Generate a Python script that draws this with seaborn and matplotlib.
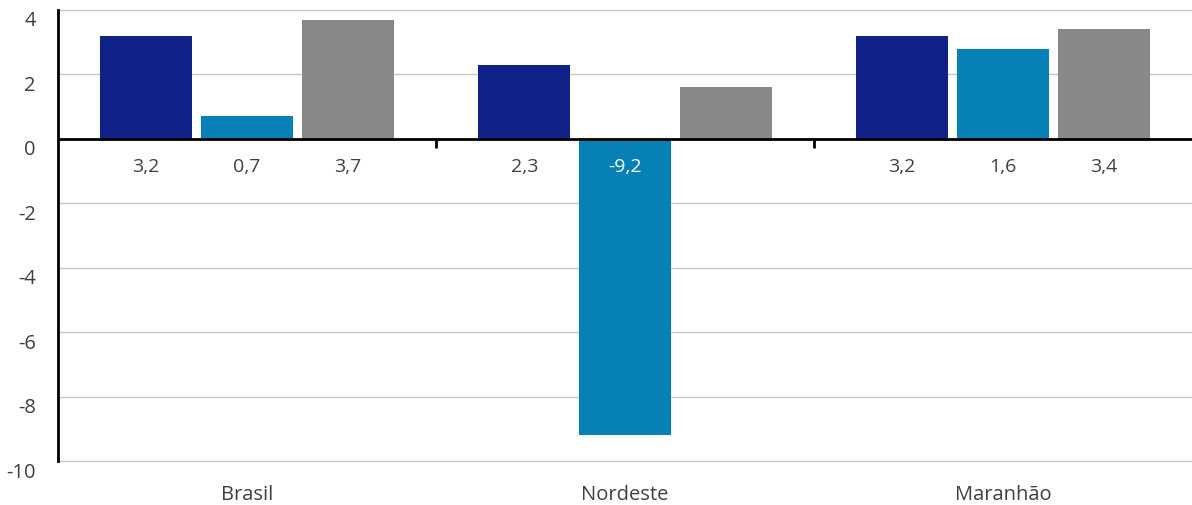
import numpy as np
import pandas as pd
import matplotlib
matplotlib.use("Agg")
import matplotlib.pyplot as plt
import matplotlib.transforms as mtransforms
import seaborn as sns

# data
regions = ["Brasil", "Nordeste", "Maranhão"]
series = ["Série 1", "Série 2", "Série 3"]
serie1 = [3.2, 2.3, 3.2]
serie2 = [0.7, -9.2, 2.8]
serie3 = [3.7, 1.6, 3.4]
# printed labels (as shown in the original, one per bar)
labels1 = ["3,2", "2,3", "3,2"]
labels2 = ["0,7", "-9,2", "1,6"]
labels3 = ["3,7", "", "3,4"]

colors = ["#10218A", "#0780B6", "#888888"]
text_color = "#404040"

df = pd.DataFrame({
    "regiao": regions * 3,
    "serie": [s for s in series for _ in regions],
    "valor": serie1 + serie2 + serie3,
})

sns.set_theme(style="white")
plt.rcParams["font.family"] = ["Open Sans", "DejaVu Sans"]

fig = plt.figure(figsize=(11.92, 5.05), dpi=100)
ax = fig.add_axes([58 / 1192, 44 / 505, 1134 / 1192, 451 / 505])

sns.barplot(data=df, x="regiao", y="valor", hue="serie", palette=colors,
            width=0.8, gap=0.085, saturation=1, linewidth=0, legend=False, ax=ax)

ax.set_ylim(-10, 4)
ax.set_xlim(-0.5, len(regions) - 0.5)
yt = np.arange(-10, 5, 2)
ax.set_yticks(yt)
ax.set_yticklabels([str(v) for v in yt])
ax.yaxis.grid(True, color="#c8c8c8", linewidth=1)
for gl in ax.get_ygridlines():
    gl.set_clip_on(False)
ax.set_axisbelow(True)
ax.set_xlabel("")
ax.set_ylabel("")

for s in ["top", "right", "bottom"]:
    ax.spines[s].set_visible(False)
ax.spines["left"].set_color("black")
ax.spines["left"].set_linewidth(2)

ax.axhline(0, color="black", linewidth=2, zorder=3)
# separators between categories on the zero line
ax.vlines(np.arange(len(regions) - 1) + 0.5, -0.28, 0, color="black",
          linewidth=2, zorder=3)

ax.tick_params(axis="x", length=0, pad=17, labelsize=14.5, labelcolor=text_color)
ax.tick_params(axis="y", length=0, pad=16, labelsize=14.5, labelcolor=text_color)
offset = mtransforms.ScaledTranslation(0, -9 / 100, fig.dpi_scale_trans)
for lab in ax.get_yticklabels():
    lab.set_transform(lab.get_transform() + offset)

all_labels = [labels1, labels2, labels3]
all_values = [serie1, serie2, serie3]
for cont, labs, vals in zip(ax.containers, all_labels, all_values):
    for bar, lab, v in zip(cont, labs, vals):
        xc = bar.get_x() + bar.get_width() / 2
        ax.text(xc, -0.87, lab, ha="center", va="center", fontsize=14,
                color="white" if v < 0 else text_color, zorder=4)

fig.savefig("out.png", dpi=100)
